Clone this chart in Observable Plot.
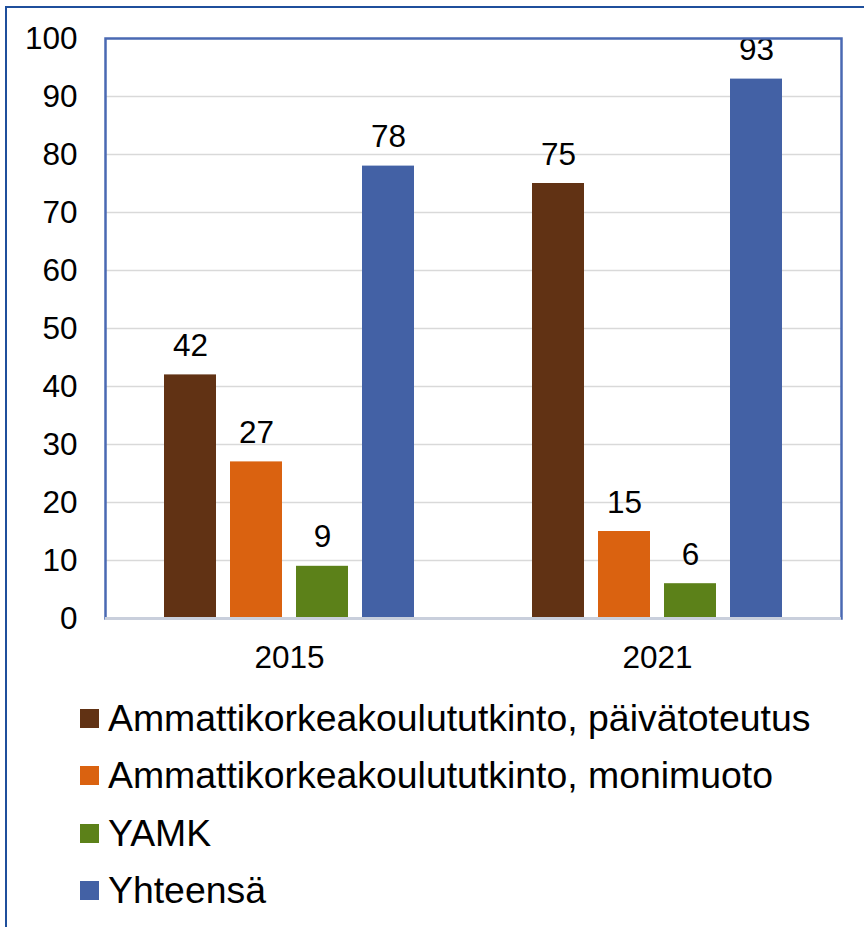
<!DOCTYPE html>
<html>
<head>
<meta charset="utf-8">
<script src="https://cdn.jsdelivr.net/npm/d3@7"></script>
<script src="https://cdn.jsdelivr.net/npm/@observablehq/plot@0.6"></script>
<style>
  html, body { margin: 0; padding: 0; background: #fff; }
  body { width: 864px; height: 927px; position: relative; overflow: hidden;
         font-family: "Liberation Sans", Arial, sans-serif; }
  #border { position: absolute; left: 5px; top: 6px; width: 900px; height: 1000px;
            border-left: 2.5px solid #1f4f9c; border-top: 2.5px solid #1f4f9c; }
  #chart { position: absolute; left: 0; top: 0; }
  #legend { position: absolute; left: 80px; top: 690px; }
  .row { display: flex; align-items: center; height: 57.3px; }
  .sw { width: 19px; height: 19px; margin-right: 9px; }
  .lab { font-size: 37.4px; color: #000; line-height: 1; }
</style>
</head>
<body>
<div id="border"></div>
<div id="chart"></div>
<div id="legend"></div>
<script>
const years = ["2015", "2021"];
const series = [
  "Ammattikorkeakoulututkinto, päivätoteutus",
  "Ammattikorkeakoulututkinto, monimuoto",
  "YAMK",
  "Yhteensä"
];
const values2015 = [42, 27, 9, 78];
const values2021 = [75, 15, 6, 93];
const yTicks = [0, 10, 20, 30, 40, 50, 60, 70, 80, 90, 100];
const colors = ["#613214", "#da6210", "#5c8119", "#4361a5"];

const data = [];
series.forEach((s, i) => data.push({year: years[0], series: s, value: values2015[i]}));
series.forEach((s, i) => data.push({year: years[1], series: s, value: values2021[i]}));

const font = '"Liberation Sans", Arial, sans-serif';
const fs = 31.5;

const plot = Plot.plot({
  width: 864,
  height: 690,
  marginLeft: 104,
  marginRight: 23,
  marginTop: 38,
  marginBottom: 72,
  style: {fontFamily: font, fontSize: fs + "px", color: "#000", background: "transparent"},
  fx: {domain: years, padding: 0, label: null},
  x: {domain: series, paddingInner: 0.21, paddingOuter: 0.855, axis: null},
  y: {domain: [0, 100], label: null},
  color: {domain: series, range: colors},
  marks: [
    Plot.ruleY(yTicks.filter(d => d > 0 && d < 100), {stroke: "#d9d9d9", strokeWidth: 1.5}),
    Plot.barY(data, {fx: "year", x: "series", y: "value", fill: "series"}),
    Plot.text(data, {fx: "year", x: "series", y: "value", text: d => String(d.value),
      dy: -29, lineAnchor: "middle", fontSize: fs, fill: "#000"}),
    Plot.frame({facet: "super", stroke: "#4a69b3", strokeWidth: 2.5}),
    Plot.ruleY([0], {stroke: "#c9cfdc", strokeWidth: 3}),
    Plot.axisY({ticks: yTicks, tickSize: 0, tickPadding: 28, fontSize: fs, label: null}),
    Plot.axisFx({anchor: "bottom", tickSize: 0, tickPadding: 27, fontSize: fs, label: null})
  ]
});
document.getElementById("chart").appendChild(plot);

const legend = document.getElementById("legend");
series.forEach((s, i) => {
  const row = document.createElement("div");
  row.className = "row";
  const sw = document.createElement("div");
  sw.className = "sw";
  sw.style.background = colors[i];
  const lab = document.createElement("div");
  lab.className = "lab";
  lab.textContent = s;
  row.appendChild(sw);
  row.appendChild(lab);
  legend.appendChild(row);
});
</script>
</body>
</html>
